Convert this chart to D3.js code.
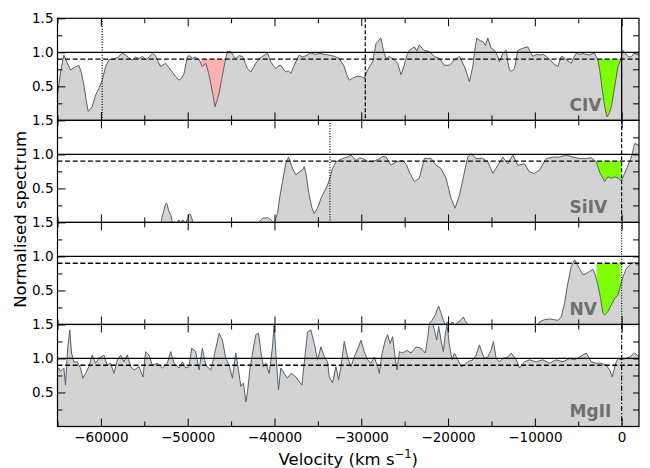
<!DOCTYPE html>
<html>
<head>
<meta charset="utf-8">
<script src="https://cdn.jsdelivr.net/npm/d3@7"></script>
<style>
body { margin: 0; background: #fff; }
text { font-family: "DejaVu Sans", sans-serif; }
</style>
</head>
<body>
<script>
const width = 650;
const height = 468;

// ions, one per panel, top to bottom
const ions = ["CIV", "SiIV", "NV", "MgII"];

// [velocity (km/s), normalised flux]; negative flux = no data / clipped
const civ = [[-65000,0.37],[-64600,0.75],[-64270,0.96],[-63900,0.85],[-63500,0.74],[-63000,0.78],[-62540,0.81],[-62250,0.70],[-61960,0.52],[-61700,0.30],[-61460,0.13],[-61000,0.20],[-60610,0.37],[-60230,0.47],[-59850,0.59],[-59460,0.79],[-59080,0.89],[-58500,0.90],[-58000,0.93],[-57540,0.99],[-57150,0.96],[-56800,0.92],[-56380,0.89],[-56000,0.93],[-55610,0.91],[-55200,0.94],[-54840,0.89],[-54450,0.93],[-54070,0.985],[-53690,0.95],[-53400,0.86],[-53110,0.79],[-52540,0.84],[-52150,0.77],[-51770,0.71],[-51400,0.64],[-51000,0.59],[-50700,0.62],[-50420,0.69],[-50200,0.83],[-50040,0.94],[-49750,0.95],[-49460,0.91],[-49100,0.93],[-48690,0.89],[-48300,0.79],[-47920,0.84],[-47600,0.70],[-47340,0.54],[-47100,0.38],[-46850,0.20],[-46600,0.30],[-46380,0.40],[-46100,0.60],[-45810,0.79],[-45600,0.92],[-45420,1.01],[-45040,1.01],[-44750,0.95],[-44460,0.91],[-44100,0.95],[-43690,0.94],[-43400,0.85],[-43110,0.76],[-42730,0.71],[-42400,0.78],[-42150,0.84],[-41800,0.90],[-41380,0.94],[-41100,0.96],[-40800,0.99],[-40420,0.86],[-40100,0.80],[-39840,0.76],[-39550,0.80],[-39260,0.81],[-38950,0.75],[-38690,0.71],[-38400,0.73],[-38110,0.69],[-37730,0.81],[-37400,0.90],[-37150,0.96],[-36800,0.93],[-36380,0.95],[-36100,0.97],[-35800,0.99],[-35300,0.97],[-34840,0.985],[-34300,0.97],[-33690,0.96],[-33100,0.94],[-32540,0.91],[-31960,0.79],[-31700,0.68],[-31380,0.59],[-31000,0.62],[-30420,0.65],[-30000,0.64],[-29650,0.62],[-29270,0.74],[-28690,0.86],[-28500,1.00],[-28300,1.13],[-27730,1.21],[-27540,1.08],[-27150,0.91],[-26770,0.94],[-26190,0.89],[-25810,0.84],[-25420,0.67],[-25040,0.81],[-24750,0.95],[-24460,1.03],[-23880,1.08],[-23600,1.02],[-23310,1.11],[-23000,1.06],[-22730,1.03],[-22150,1.01],[-21580,0.94],[-21000,0.91],[-20420,0.81],[-19850,0.81],[-19270,0.89],[-18690,0.94],[-18110,0.79],[-17800,0.68],[-17540,0.57],[-17150,0.79],[-16900,1.05],[-16690,1.21],[-16300,1.17],[-16000,1.16],[-15700,1.10],[-15420,1.21],[-15040,1.06],[-14650,1.03],[-14300,0.95],[-14080,0.86],[-13690,0.985],[-13310,1.03],[-13100,0.85],[-12920,0.74],[-12650,0.72],[-12350,0.76],[-11960,1.03],[-11380,1.06],[-10810,1.08],[-10500,1.00],[-10230,0.94],[-9800,0.97],[-9460,0.96],[-9050,0.97],[-8690,0.94],[-8300,0.90],[-7920,0.84],[-7350,0.79],[-6960,0.94],[-6700,0.93],[-6380,0.89],[-5800,0.84],[-5500,0.93],[-5230,0.985],[-4850,0.97],[-4460,0.985],[-4100,0.97],[-3690,0.96],[-3400,0.98],[-3110,0.985],[-2900,0.93],[-2730,0.89],[-2480,0.70],[-2230,0.45],[-1950,0.20],[-1690,0.05],[-1450,0.10],[-1190,0.20],[-810,0.49],[-420,0.79],[-115,0.89],[150,1.03],[540,0.96],[900,0.93],[1120,0.94],[1500,0.985],[2000,0.96]];

const siiv = [[-65000,-0.3],[-53200,-0.2],[-53000,0.06],[-52730,0.18],[-52550,0.27],[-52420,0.28],[-52150,0.16],[-51950,0.11],[-51770,0.01],[-51600,-0.1],[-51300,-0.05],[-51100,0.03],[-50950,0.03],[-50800,-0.05],[-50650,0.03],[-50450,0.03],[-50300,-0.05],[-50100,0.03],[-50000,0.05],[-49850,0.12],[-49700,0.12],[-49550,0.07],[-49400,0.0],[-49200,-0.2],[-42500,-0.2],[-41770,0.01],[-41380,0.06],[-40800,0.07],[-40420,0.04],[-40040,-0.01],[-39650,0.13],[-39380,0.38],[-39080,0.60],[-38690,0.87],[-38380,0.96],[-37920,0.79],[-37540,0.70],[-37150,0.74],[-36770,0.77],[-36570,0.82],[-36380,0.72],[-36000,0.40],[-35700,0.22],[-35420,0.13],[-35040,0.21],[-34650,0.35],[-34270,0.45],[-33880,0.55],[-33690,0.62],[-33310,0.79],[-32920,0.89],[-32150,0.94],[-31600,0.96],[-31190,0.99],[-30610,0.91],[-30200,0.95],[-29840,0.94],[-29300,0.90],[-28690,0.89],[-28000,0.93],[-27500,0.97],[-27150,0.96],[-26570,0.84],[-25990,0.89],[-25230,0.91],[-24800,0.85],[-24460,0.74],[-23880,0.60],[-23310,0.65],[-22730,0.94],[-21960,0.94],[-21380,0.84],[-20800,0.79],[-20230,0.65],[-19650,0.35],[-19190,0.21],[-18690,0.40],[-18110,0.74],[-17730,0.96],[-17350,1.01],[-16770,0.94],[-16000,0.94],[-15420,0.89],[-14840,0.72],[-14270,0.84],[-13690,0.96],[-13110,0.86],[-12540,0.99],[-11960,0.84],[-11190,0.86],[-10610,0.74],[-10040,0.72],[-9460,0.77],[-8690,0.94],[-7920,0.96],[-7150,0.96],[-6380,0.99],[-5610,0.96],[-4840,0.94],[-4070,0.94],[-3500,0.95],[-2920,0.89],[-2540,0.74],[-1960,0.60],[-1580,0.67],[-1190,0.65],[-810,0.67],[-420,0.65],[-40,0.61],[350,0.72],[730,0.84],[1120,0.96],[1500,1.16],[1880,1.14],[2000,1.12]];

const nv = [[-65000,-0.3],[-22300,-0.2],[-22150,0.02],[-21850,0.06],[-21460,0.14],[-21200,0.24],[-21080,0.27],[-20800,0.16],[-20540,0.06],[-20310,-0.01],[-20150,0.03],[-19950,0.03],[-19800,-0.03],[-19600,0.03],[-19400,0.03],[-19250,-0.03],[-18900,0.03],[-18700,0.04],[-18450,0.08],[-18230,0.11],[-18050,0.06],[-17730,0.0],[-17500,-0.2],[-10200,-0.2],[-9460,0.04],[-8880,0.07],[-8310,0.08],[-7730,0.07],[-7350,0.06],[-6960,0.11],[-6580,0.31],[-6190,0.61],[-5810,0.85],[-5420,0.95],[-5230,0.91],[-4850,0.82],[-4460,0.73],[-4080,0.75],[-3690,0.78],[-3310,0.81],[-3040,0.73],[-2730,0.58],[-2420,0.38],[-2150,0.16],[-1960,0.14],[-1580,0.19],[-1190,0.29],[-810,0.38],[-420,0.43],[-120,0.58],[150,0.70],[540,0.82],[1120,0.90],[1500,0.91],[1810,0.87],[2000,0.90]];

const mgii = [[-65000,0.83],[-64850,0.86],[-64650,0.81],[-64270,0.86],[-64080,0.61],[-63960,0.88],[-63810,1.17],[-63580,1.42],[-63380,1.08],[-63120,0.95],[-62730,0.95],[-62350,0.86],[-62080,0.71],[-61770,0.78],[-61380,0.88],[-61000,1.05],[-60610,0.93],[-60230,1.00],[-59650,1.05],[-59270,0.90],[-58880,0.93],[-58500,0.78],[-58110,0.98],[-57730,1.05],[-57350,0.95],[-56960,1.05],[-56580,0.88],[-56190,0.83],[-55610,0.88],[-55150,0.73],[-54840,1.10],[-54460,1.05],[-54070,0.90],[-53500,0.93],[-52920,0.86],[-52340,0.93],[-51960,1.10],[-51580,0.93],[-51000,0.86],[-50610,0.95],[-50230,0.86],[-49850,0.88],[-49540,1.15],[-49080,1.10],[-48690,0.83],[-48310,1.15],[-47920,0.90],[-47340,0.83],[-46960,1.03],[-46380,1.37],[-46000,1.27],[-45610,1.00],[-45230,0.90],[-44840,0.71],[-44460,1.08],[-44150,0.83],[-43880,0.59],[-43570,0.64],[-43300,0.36],[-43110,0.51],[-42840,0.83],[-42530,1.08],[-42150,1.35],[-41840,1.37],[-41570,1.10],[-41270,0.88],[-41000,0.93],[-40610,0.78],[-40230,1.17],[-40040,1.49],[-39840,1.08],[-39540,0.54],[-39270,0.86],[-38880,0.78],[-38500,0.71],[-38110,0.78],[-37540,0.73],[-37150,0.66],[-36840,0.61],[-36570,0.93],[-36190,1.39],[-35810,1.42],[-35420,1.22],[-35040,0.98],[-34650,1.17],[-34270,1.03],[-33880,0.95],[-33690,0.73],[-33310,0.64],[-32920,0.88],[-32610,0.69],[-32340,0.88],[-31960,1.25],[-31580,1.02],[-31190,0.88],[-30810,1.02],[-30310,1.17],[-30040,1.27],[-29650,1.10],[-29270,0.98],[-28880,0.93],[-28500,1.02],[-28110,0.88],[-27920,0.78],[-27610,1.07],[-27230,1.27],[-26960,1.35],[-26690,1.22],[-26380,1.32],[-26070,0.98],[-25880,0.83],[-25610,1.10],[-25230,1.08],[-24770,1.12],[-24270,1.08],[-23690,1.17],[-23110,1.15],[-22620,1.08],[-22350,1.30],[-22150,1.52],[-21850,1.55],[-21580,1.42],[-21310,1.27],[-21080,1.47],[-20810,1.27],[-20540,1.10],[-20310,1.37],[-20110,1.49],[-19850,1.20],[-19540,0.98],[-19270,1.08],[-18880,0.98],[-18500,0.88],[-18120,0.90],[-17730,0.95],[-17150,0.98],[-16770,1.05],[-16380,1.20],[-16070,1.08],[-15810,1.00],[-15420,1.02],[-15040,1.12],[-14770,1.25],[-14460,1.00],[-14080,0.95],[-13690,1.00],[-13110,1.02],[-12730,1.08],[-12150,0.98],[-11770,0.86],[-11190,0.95],[-10610,0.98],[-9840,0.95],[-9080,0.98],[-8310,0.93],[-7540,0.98],[-6770,0.95],[-6000,1.00],[-5420,0.98],[-4850,1.02],[-4080,1.08],[-3500,0.95],[-2920,0.93],[-2340,0.93],[-1770,0.90],[-1380,0.83],[-1080,0.73],[-690,0.93],[-420,1.00],[-40,0.98],[460,1.00],[920,1.02],[1500,1.08],[1880,1.04],[2000,1.03]];

const spectra = [civ, siiv, nv, mgii];

// vertical markers per panel (velocity, line kind)
const markerVel = [[-59850, -29540, 0], [-33610, 0], [0], [0]];
const markerKind = [["dotted", "dashed", "solid"], ["dotted", "dashed"], ["dotted"], ["dashdot"]];

// shaded absorption windows (velocity ranges) per panel
const redWindows = [[[-48500, -45600]], [], [], []];
const greenWindows = [[[-2880, -110]], [[-3000, -40]], [[-2880, -110]], []];

const xTicks = [-60000, -50000, -40000, -30000, -20000, -10000, 0];

const plotLeft = 57.5, plotRight = 639, plotTop = 18.3, panelH = 102.05;

const x = d3.scaleLinear().domain([-65000, 2000]).range([plotLeft, plotRight]);
const y = d3.scaleLinear().domain([0, 1.5]).range([panelH, 0]);

const dash = {dotted: "1,1.6", dashed: "4,2", solid: null, dashdot: "5,2,1.2,2"};

const svg = d3.select("body").append("svg")
  .attr("width", width)
  .attr("height", height);

function windowPoints(spec, lo, hi) {
  // spectrum points inside [lo, hi] plus interpolated edges
  const interp = v => {
    const i = d3.bisector(d => d[0]).left(spec, v);
    const a = spec[Math.max(i - 1, 0)], b = spec[Math.min(i, spec.length - 1)];
    if (a[0] === b[0]) return a[1];
    return a[1] + (b[1] - a[1]) * (v - a[0]) / (b[0] - a[0]);
  };
  const inner = spec.filter(d => d[0] > lo && d[0] < hi);
  return [[lo, interp(lo)], ...inner, [hi, interp(hi)]];
}

spectra.forEach((spec, i) => {
  const g = svg.append("g").attr("transform", `translate(0,${plotTop + i * panelH})`);

  g.append("clipPath").attr("id", "clip" + i)
    .append("rect")
    .attr("x", plotLeft).attr("y", 0)
    .attr("width", plotRight - plotLeft).attr("height", panelH);

  const plot = g.append("g").attr("clip-path", `url(#clip${i})`);

  plot.append("path")
    .datum(spec)
    .attr("fill", "#d3d3d3")
    .attr("d", d3.area().x(d => x(d[0])).y0(y(0)).y1(d => y(d[1])));

  const shade = (wins, col) => wins.forEach(w => {
    plot.append("path")
      .datum(windowPoints(spec, w[0], w[1]))
      .attr("fill", col)
      .attr("d", d3.area().x(d => x(d[0])).y0(y(0.9)).y1(d => y(Math.min(d[1], 0.9))));
  });
  shade(redWindows[i], "#ffb1b1");
  shade(greenWindows[i], "#7fff00");

  plot.append("path")
    .datum(spec)
    .attr("fill", "none")
    .attr("stroke", "#52606b")
    .attr("stroke-width", 1)
    .attr("d", d3.line().x(d => x(d[0])).y(d => y(d[1])));

  plot.append("line")
    .attr("x1", plotLeft).attr("x2", plotRight)
    .attr("y1", y(1)).attr("y2", y(1))
    .attr("stroke", "#000").attr("stroke-width", 1.2);

  plot.append("line")
    .attr("x1", plotLeft).attr("x2", plotRight)
    .attr("y1", y(0.9)).attr("y2", y(0.9))
    .attr("stroke", "#000").attr("stroke-width", 1.4)
    .attr("stroke-dasharray", "5,2.6");

  markerVel[i].forEach((v, j) => {
    plot.append("line")
      .attr("x1", x(v)).attr("x2", x(v))
      .attr("y1", 0).attr("y2", panelH)
      .attr("stroke", "#000")
      .attr("stroke-width", markerKind[i][j] === "solid" ? 1.3 : 1.2)
      .attr("stroke-dasharray", dash[markerKind[i][j]]);
  });

  g.append("text")
    .attr("x", x(-6000))
    .attr("y", y(0) - 9.5)
    .attr("font-size", "17px")
    .attr("font-weight", "bold")
    .attr("fill", "#6f6f6f")
    .text(ions[i]);

  // ticks, all pointing inward
  const xMinor = d3.range(-65000, 2001, 5000).filter(v => !xTicks.includes(v));
  const isLast = i === spectra.length - 1;
  const axes = [
    [d3.axisBottom(x).tickValues(xTicks).tickSize(-8).tickFormat(isLast ? d3.format("d") : ""), panelH],
    [d3.axisBottom(x).tickValues(xMinor).tickSize(-5).tickFormat(""), panelH],
    [d3.axisTop(x).tickValues(xTicks).tickSize(-8).tickFormat(""), 0],
    [d3.axisTop(x).tickValues(xMinor).tickSize(-5).tickFormat(""), 0]
  ];
  axes.forEach(([ax, ty]) => {
    g.append("g")
      .attr("transform", `translate(0,${ty})`)
      .call(ax.tickSizeOuter(0).tickPadding(6))
      .call(s => s.select(".domain").remove())
      .call(s => s.selectAll("text").attr("font-size", "13.5px").attr("font-family", "DejaVu Sans").attr("fill", "#000"));
  });

  const yAxes = [
    [d3.axisLeft(y).tickValues([0.5, 1, 1.5]).tickSize(-8).tickFormat(d3.format(".1f")), plotLeft],
    [d3.axisLeft(y).tickValues([0.25, 0.75, 1.25]).tickSize(-5).tickFormat(""), plotLeft],
    [d3.axisRight(y).tickValues([0.5, 1]).tickSize(-6).tickFormat(""), plotRight],
    [d3.axisRight(y).tickValues([0.25, 0.75, 1.25]).tickSize(-6).tickFormat(""), plotRight]
  ];
  yAxes.forEach(([ax, tx]) => {
    g.append("g")
      .attr("transform", `translate(${tx},0)`)
      .call(ax.tickSizeOuter(0).tickPadding(4))
      .call(s => s.select(".domain").remove())
      .call(s => s.selectAll("text").attr("font-size", "13.5px").attr("font-family", "DejaVu Sans").attr("fill", "#000"));
  });

  g.append("rect")
    .attr("x", plotLeft).attr("y", 0)
    .attr("width", plotRight - plotLeft).attr("height", panelH)
    .attr("fill", "none")
    .attr("stroke", "#000")
    .attr("stroke-width", 1.2);
});

svg.append("text")
  .attr("transform", `translate(20,${plotTop + 2 * panelH - 3}) rotate(-90)`)
  .attr("text-anchor", "middle")
  .attr("dy", "0.35em")
  .attr("font-size", "16.5px")
  .text("Normalised spectrum");

const xl = svg.append("text")
  .attr("x", (plotLeft + plotRight) / 2)
  .attr("y", 465)
  .attr("text-anchor", "middle")
  .attr("font-size", "16.5px")
  .text("Velocity (km s");
xl.append("tspan").attr("dy", -7).attr("font-size", "11.5px").text("\u22121");
xl.append("tspan").attr("dy", 7).text(")");
</script>
</body>
</html>
